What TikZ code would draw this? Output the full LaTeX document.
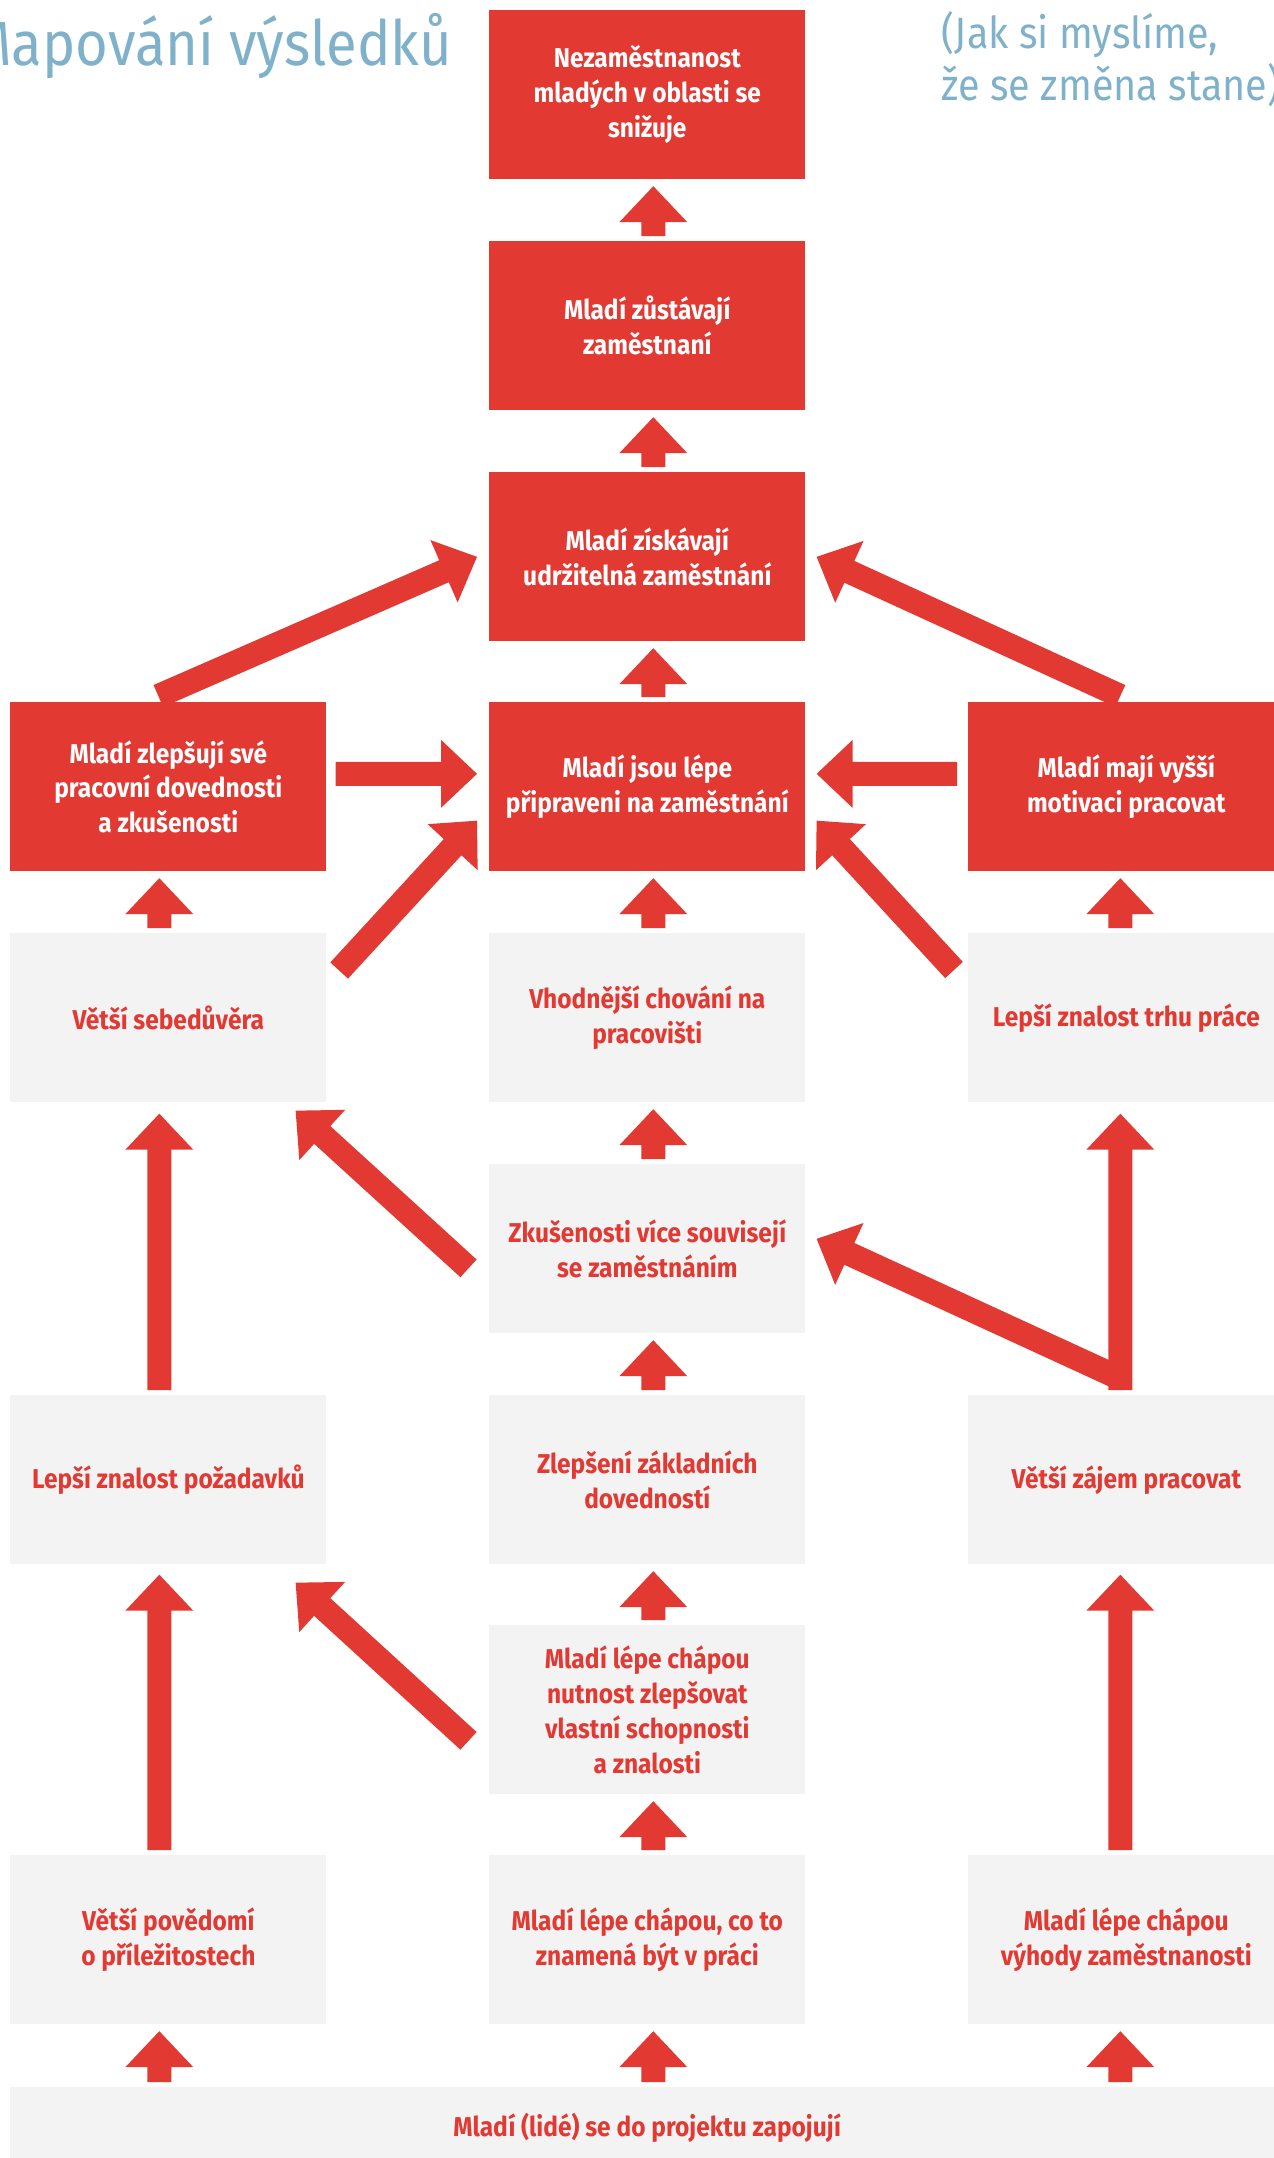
\documentclass[tikz,border=0pt]{standalone}
\usepackage{fontspec}
\setmainfont{Fira Sans}[FakeStretch=0.9]
\usetikzlibrary{calc}

\definecolor{mred}{RGB}{226,57,51}
\definecolor{mgray}{RGB}{243,243,243}
\definecolor{mblue}{RGB}{127,178,202}

\newcommand\boxfont{\bfseries\fontsize{15.5}{19.9}\selectfont}
\newcommand\titlefont{\fontsize{35.5}{40}\selectfont}
\newcommand\notefont{\fontsize{25}{30}\selectfont}

% block arrow from #1 (tail) to #2 (tip): shaft 24, head 68 wide, 36 long
\newcommand\fatarrow[2]{%
  \coordinate (fa-a) at #1;
  \coordinate (fa-b) at #2;
  \coordinate (fa-h) at ($(fa-b)!0.72cm!(fa-a)$);
  \fill[mred] ($(fa-a)!0.24cm!90:(fa-b)$) -- ($(fa-h)!0.24cm!90:(fa-b)$)
    -- ($(fa-h)!0.68cm!90:(fa-b)$) -- (fa-b)
    -- ($(fa-h)!0.68cm!-90:(fa-b)$) -- ($(fa-h)!0.24cm!-90:(fa-b)$)
    -- ($(fa-a)!0.24cm!-90:(fa-b)$) -- cycle;}

% short upward arrow between stacked boxes: lower, upper, x offset
\newcommand\uparr[3]{%
  \fatarrow{($(#2.south |- #1.north)+(#3,-5)$)}{($(#2.south)+(#3,6.5)$)}}

\begin{document}
\begin{tikzpicture}[x=0.02cm,y=-0.02cm,
  cell/.style={anchor=north west, minimum width=6.32cm, minimum height=3.38cm,
    inner sep=0pt, align=center, font=\boxfont},
  outcome/.style={cell, fill=mred, text=white},
  activity/.style={cell, fill=mgray, text=mred}]

\useasboundingbox (0,0) rectangle (1274,2158);
\clip (0,0) rectangle (1274,2158);

% headings
\node[anchor=base east, text=mblue, font=\titlefont, inner sep=0pt] (title) at (452,65) {Mapování výsledků};
\node[anchor=base west, text=mblue, font=\notefont, inner sep=0pt] (note1) at (941,48) {(Jak si myslíme,};
\node[anchor=base west, text=mblue, font=\notefont, inner sep=0pt] (note2) at (941,100) {že se změna stane)};

% outcomes
\node[outcome] (r1c) at (489,10) {Nezaměstnanost\\mladých v oblasti se\\snižuje};
\node[outcome] (r2c) at (489,241) {Mladí zůstávají\\zaměstnaní};
\node[outcome] (r3c) at (489,472) {Mladí získávají\\udržitelná zaměstnání};
\node[outcome] (r4l) at (10,702) {Mladí zlepšují své\\pracovní dovednosti\\a zkušenosti};
\node[outcome] (r4c) at (489,702) {Mladí jsou lépe\\připraveni na zaměstnání};
\node[outcome] (r4r) at (968,702) {Mladí mají vyšší\\motivaci pracovat};

% intermediate steps
\node[activity] (r5l) at (10,933) {Větší sebedůvěra};
\node[activity] (r5c) at (489,933) {Vhodnější chování na\\pracovišti};
\node[activity] (r5r) at (968,933) {Lepší znalost trhu práce};
\node[activity] (r6c) at (489,1164) {Zkušenosti více souvisejí\\se zaměstnáním};
\node[activity] (r7l) at (10,1395) {Lepší znalost požadavků};
\node[activity] (r7c) at (489,1395) {Zlepšení základních\\dovedností};
\node[activity] (r7r) at (968,1395) {Větší zájem pracovat};
\node[activity] (r8c) at (489,1625) {Mladí lépe chápou\\nutnost zlepšovat\\vlastní schopnosti\\a znalosti};
\node[activity] (r9l) at (10,1855) {Větší povědomí\\o příležitostech};
\node[activity] (r9c) at (489,1855) {Mladí lépe chápou, co to\\znamená být v práci};
\node[activity] (r9r) at (968,1855) {Mladí lépe chápou\\výhody zaměstnanosti};
\node[activity, minimum width=25.48cm, minimum height=1.6cm] (r10) at (10,2087) {Mladí (lidé) se do projektu zapojují};

% centre column
\uparr{r2c}{r1c}{6}
\uparr{r3c}{r2c}{6}
\uparr{r4c}{r3c}{6}
\uparr{r5c}{r4c}{6}
\uparr{r6c}{r5c}{6}
\uparr{r7c}{r6c}{6}
\uparr{r8c}{r7c}{6}
\uparr{r9c}{r8c}{6}
\uparr{r10}{r9c}{6}

% side columns
\uparr{r5l}{r4l}{-9}
\uparr{r10}{r9l}{-9}
\uparr{r5r}{r4r}{-6}
\uparr{r10}{r9r}{-6}
\fatarrow{($(r7l.north)+(-9,-5)$)}{($(r5l.south)+(-9,11)$)}
\fatarrow{($(r9l.north)+(-9,-5)$)}{($(r7l.south)+(-9,10)$)}
\fatarrow{($(r7r.north)+(-7,-17)$)}{($(r6c.east)+(11,-10)$)}
\fatarrow{($(r7r.north)+(-6,-5)$)}{($(r5r.south)+(-6,11)$)}
\fatarrow{($(r9r.north)+(-6,-5)$)}{($(r7r.south)+(-6,10)$)}

% cross links
\fatarrow{($(r4l.east)+(9,-13)$)}{($(r4c.west)+(-12,-13)$)}
\fatarrow{($(r4r.west)+(-11,-13)$)}{($(r4c.east)+(11,-13)$)}
\fatarrow{($(r4l.north)+(-10,-6)$)}{($(r3c.west)+(-12,0)$)}
\fatarrow{($(r4r.north)+(-6,-6)$)}{($(r3c.east)+(11,0)$)}
\fatarrow{($(r5l.north east)+(12.5,37.5)$)}{($(r4c.south west)+(-12,-51)$)}
\fatarrow{($(r5r.north west)+(-14,37)$)}{($(r4c.south east)+(11,-51)$)}
\fatarrow{($(r6c.west)+(-20.5,19.5)$)}{($(r5l.south east)+(-31,8)$)}
\fatarrow{($(r8c.west)+(-20.5,31)$)}{($(r7l.south east)+(-31,18)$)}

\end{tikzpicture}
\end{document}
